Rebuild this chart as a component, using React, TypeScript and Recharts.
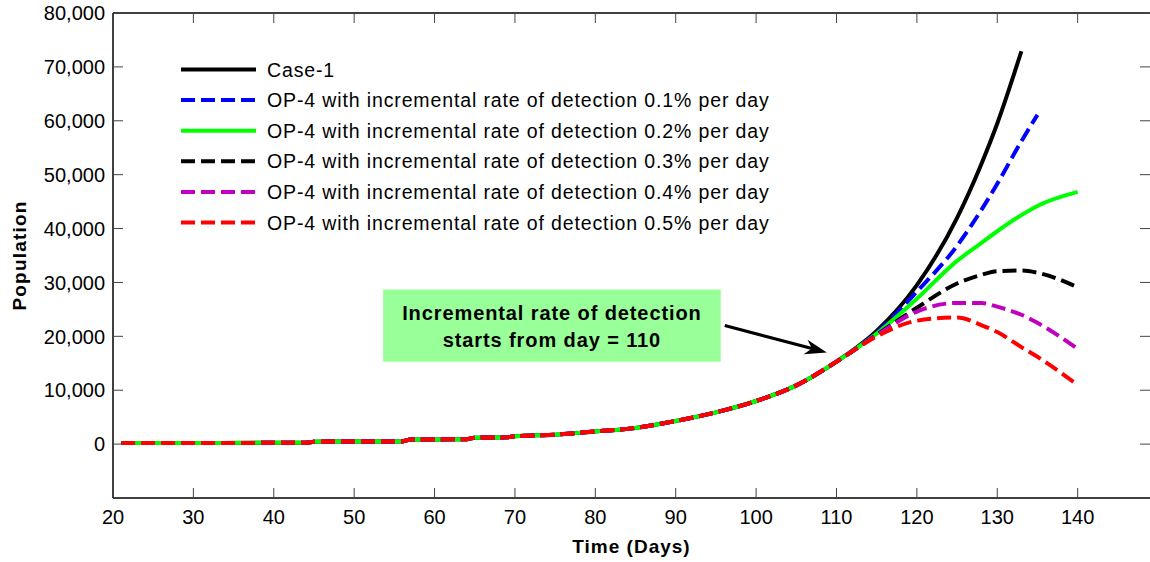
import React from 'react';
import { LineChart, Line, XAxis, YAxis, Legend, ReferenceArea, ReferenceLine } from 'recharts';

const W = 1150;
const H = 562;
const PLOT_TOP = 13;
const PLOT_RIGHT = 1150;
const FONT = '"Liberation Sans", Arial, Helvetica, sans-serif';

// days sampled from the figure
const days = [21, 44, 45, 56, 57, 64, 65, 69, 70, 75, 80, 85, 90, 95, 100, 105, 110, 115, 120, 125, 128, 130, 133, 135, 140];
// all runs are identical up to day 110
const shared = [200, 250, 450, 500, 850, 900, 1200, 1250, 1450, 1750, 2350, 3000, 4300, 5900, 8000, 10900, 15300];
const case1 = [...shared, 21000, 29500, 42000, 51900, 59500, 72900, null, null];
const op01 = [...shared, 20700, 28300, 36800, 43400, 48300, 56200, 61100, null];
const op02 = [...shared, 20500, 27000, 34000, 37300, 39500, 42500, 44200, 46800];
const op03 = [...shared, 20300, 25300, 29800, 31400, 32100, 32200, 31800, 29100];
const op04 = [...shared, 20200, 24600, 26200, 26200, 25500, 24000, 22500, 17700];
const op05 = [...shared, 20000, 22900, 23500, 22100, 20800, 18000, 16200, 11000];

const xTicks = [20, 30, 40, 50, 60, 70, 80, 90, 100, 110, 120, 130, 140];
const yTicks = [0, 10000, 20000, 30000, 40000, 50000, 60000, 70000, 80000];

const seriesKeys = ['case1', 'op01', 'op02', 'op03', 'op04', 'op05'];
const seriesValues = [case1, op01, op02, op03, op04, op05];
const seriesNames = [
  'Case-1',
  'OP-4 with incremental rate of detection 0.1% per day',
  'OP-4 with incremental rate of detection 0.2% per day',
  'OP-4 with incremental rate of detection 0.3% per day',
  'OP-4 with incremental rate of detection 0.4% per day',
  'OP-4 with incremental rate of detection 0.5% per day',
];
const seriesColors = ['#000000', '#0000ff', '#00ff00', '#000000', '#bf00bf', '#ff0000'];
const seriesDash = [undefined, '14 6', undefined, '14 6', '14 6', '14 6'];

const data = days.map((day, i) => {
  const row: Record<string, number | null> = { day };
  seriesKeys.forEach((k, s) => {
    row[k] = seriesValues[s][i] ?? null;
  });
  return row;
});

const XTick = (props: any) => {
  const { x, y, payload } = props;
  return (
    <g>
      <line x1={x} y1={y} x2={x} y2={y - 10} stroke="#444" />
      <line x1={x} y1={PLOT_TOP} x2={x} y2={PLOT_TOP + 10} stroke="#444" />
      <text x={x} y={y + 26} textAnchor="middle" fontSize={20} fontFamily={FONT} fill="#000">
        {payload.value}
      </text>
    </g>
  );
};

const YTick = (props: any) => {
  const { x, y, payload } = props;
  return (
    <g>
      <line x1={x} y1={y} x2={x + 10} y2={y} stroke="#444" />
      <line x1={PLOT_RIGHT - 10} y1={y} x2={PLOT_RIGHT} y2={y} stroke="#444" />
      <text x={x - 8} y={y} dy="0.36em" textAnchor="end" fontSize={20} fontFamily={FONT} fill="#000">
        {Number(payload.value).toLocaleString('en-US')}
      </text>
    </g>
  );
};

const LegendBox = () => (
  <svg width={620} height={200}>
    {seriesNames.map((name, i) => {
      const cy = 19.5 + i * 30.6;
      return (
        <g key={name}>
          <line x1={11} y1={cy} x2={86} y2={cy} stroke={seriesColors[i]} strokeWidth={4} strokeDasharray={seriesDash[i]} />
          <text x={97} y={cy} dy="0.36em" fontSize={19.5} letterSpacing={0.87} fontFamily={FONT} fill="#000">
            {name}
          </text>
        </g>
      );
    })}
  </svg>
);

const NoteText = (props: any) => {
  const { x, y, width, height } = props.viewBox;
  const cx = x + width / 2;
  const cy = y + height / 2;
  return (
    <text textAnchor="middle" fontSize={20} fontWeight="bold" letterSpacing={0.9} fontFamily={FONT} fill="#000">
      <tspan x={cx} y={cy - 6}>Incremental rate of detection</tspan>
      <tspan x={cx} y={cy + 21}>starts from day = 110</tspan>
    </text>
  );
};

const Arrow = (props: any) => {
  const { x1, y1, x2, y2 } = props;
  const a = Math.atan2(y2 - y1, x2 - x1);
  const len = 22;
  const half = 7.5;
  const bx = x2 - len * Math.cos(a);
  const by = y2 - len * Math.sin(a);
  const nx = -Math.sin(a);
  const ny = Math.cos(a);
  const notchX = x2 - len * 0.7 * Math.cos(a);
  const notchY = y2 - len * 0.7 * Math.sin(a);
  return (
    <g>
      <line x1={x1} y1={y1} x2={notchX} y2={notchY} stroke="#000" strokeWidth={3} />
      <polygon
        points={`${x2},${y2} ${bx + nx * half},${by + ny * half} ${notchX},${notchY} ${bx - nx * half},${by - ny * half}`}
        fill="#000"
      />
    </g>
  );
};

export default function App() {
  return (
    <div style={{ position: 'absolute', left: 0, top: 0, background: '#fff' }}>
      <LineChart width={W} height={H} data={data} margin={{ top: PLOT_TOP, right: 0, left: 0, bottom: 0 }}>
        <XAxis
          dataKey="day"
          type="number"
          domain={[20, 149]}
          ticks={xTicks}
          allowDataOverflow
          height={64}
          tickSize={0}
          tickMargin={0}
          tickLine={false}
          tick={<XTick />}
          axisLine={{ stroke: '#000', strokeWidth: 1.5 }}
          label={{
            value: 'Time (Days)',
            position: 'insideBottom',
            offset: 9,
            style: { fontSize: 19, fontWeight: 'bold', letterSpacing: 1, fontFamily: FONT, fill: '#000' },
          }}
        />
        <YAxis
          type="number"
          domain={[-10000, 80000]}
          ticks={yTicks}
          allowDataOverflow
          width={113}
          tickSize={0}
          tickMargin={0}
          tickLine={false}
          tick={<YTick />}
          axisLine={{ stroke: '#000', strokeWidth: 1.5 }}
          label={{
            value: 'Population',
            angle: -90,
            position: 'insideLeft',
            offset: 19,
            style: { fontSize: 19, fontWeight: 'bold', letterSpacing: 1.2, fontFamily: FONT, fill: '#000', textAnchor: 'middle' },
          }}
        />
        <ReferenceLine y={80000} stroke="#000" strokeWidth={1.5} />
        <ReferenceArea
          x1={53.6}
          x2={95.6}
          y1={15300}
          y2={28700}
          fill="#99ff99"
          fillOpacity={1}
          stroke="none"
          label={{ content: NoteText }}
        />
        <ReferenceLine
          segment={[
            { x: 96.1, y: 22000 },
            { x: 108.8, y: 17000 },
          ]}
          shape={Arrow}
        />
        {seriesKeys.map((k, i) => (
          <Line
            key={k}
            dataKey={k}
            name={seriesNames[i]}
            type="monotone"
            stroke={seriesColors[i]}
            strokeWidth={4}
            strokeDasharray={seriesDash[i]}
            dot={false}
            activeDot={false}
            isAnimationActive={false}
          />
        ))}
        <Legend
          layout="horizontal"
          verticalAlign="middle"
          align="center"
          width={620}
          wrapperStyle={{ left: 170, top: 50 }}
          content={<LegendBox />}
        />
      </LineChart>
    </div>
  );
}
